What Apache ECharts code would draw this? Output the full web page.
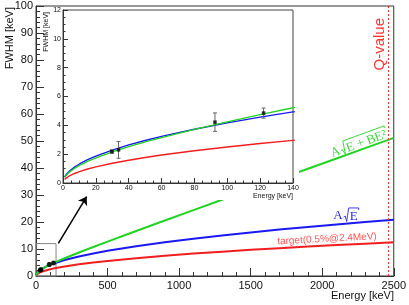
<!DOCTYPE html>
<html><head><meta charset="utf-8">
<script src="https://cdn.jsdelivr.net/npm/echarts@6/dist/echarts.min.js"></script>
<style>html,body{margin:0;padding:0;background:#fff;}#c{width:409px;height:305px;}</style>
</head><body><div id="c"></div>
<script>
const energyKeV   = [1,2,4,7,10,15,20,30,40,50,60,80,100,120,140,200,300,400,500,700,900,1100,1300,1500,1700,1900,2100,2300,2500];
const targetFWHM  = [0.25,0.35,0.50,0.66,0.79,0.97,1.12,1.37,1.58,1.77,1.94,2.24,2.50,2.74,2.96,3.54,4.33,5.00,5.59,6.61,7.50,8.29,9.01,9.68,10.31,10.90,11.46,11.99,12.50];
const sqrtFitFWHM = [0.42,0.59,0.83,1.10,1.32,1.62,1.86,2.28,2.64,2.95,3.23,3.73,4.17,4.57,4.93,5.90,7.22,8.34,9.32,11.03,12.51,13.83,15.04,16.15,17.19,18.18,19.11,20.00,20.85];
const quadFitFWHM = [0.38,0.54,0.76,1.01,1.22,1.50,1.74,2.16,2.52,2.85,3.15,3.72,4.24,4.74,5.22,6.58,8.70,10.74,12.74,16.66,20.54,24.40,28.24,32.07,35.89,39.71,43.52,47.34,51.15];
const measE    = [29.8, 33.8, 92.5, 122.1];
const measFWHM = [2.18, 2.30, 4.22, 4.85];
const measErr  = [0.12, 0.58, 0.64, 0.35];
const qValueKeV = 2458;
const zoomBox = {e: 140, f: 12};

const SANS = 'Liberation Sans, Arial, sans-serif';
const SERIF = 'Liberation Serif, Times New Roman, serif';
const RED = '#f01e1e', BLUE = '#1a1af0', GREEN = '#22d422';

const zip = (xs, ys) => xs.map((x, i) => [x, ys[i]]);
const meas = measE.map((e, i) => [e, measFWHM[i], measErr[i]]);

function errBars(cap, color) {
  return function (params, api) {
    const x = api.value(0), y = api.value(1), e = api.value(2);
    const t = api.coord([x, y + e]), b = api.coord([x, y - e]);
    const st = {stroke: color, lineWidth: 1};
    const ch = [{type: 'line', shape: {x1: t[0], y1: t[1], x2: b[0], y2: b[1]}, style: st}];
    if (cap > 0) {
      ch.push({type: 'line', shape: {x1: t[0]-cap, y1: t[1], x2: t[0]+cap, y2: t[1]}, style: st});
      ch.push({type: 'line', shape: {x1: b[0]-cap, y1: b[1], x2: b[0]+cap, y2: b[1]}, style: st});
    }
    return {type: 'group', children: ch};
  };
}

function axisX(idx, max, interval, split, tickLen, fs, margin, z) {
  return {type: 'value', gridIndex: idx, min: 0, max: max, interval: interval, z: z,
    axisLine: {show: true, onZero: false, lineStyle: {color: '#333', width: 1}},
    axisTick: {show: true, inside: true, length: tickLen, lineStyle: {color: '#333'}},
    minorTick: {show: true, splitNumber: split, length: tickLen/2, lineStyle: {color: '#333'}},
    splitLine: {show: false}, minorSplitLine: {show: false},
    axisLabel: {fontSize: fs, color: '#111', margin: margin, fontFamily: SANS, formatter: v => String(v)}};
}

function radicalLabel(x, y, rot, color, fs, pre, inner, innerW) {
  const aW = fs * 0.72;
  const top = -fs * 0.62, bot = fs * 0.42;
  const rx0 = -((aW + 6 + innerW) / 2) + aW + 1;
  const x0 = -((aW + 6 + innerW) / 2);
  return {type: 'group', x: x, y: y, rotation: rot, z: 10, children: [
    {type: 'text', x: x0, y: 0, style: {text: pre, fill: color, font: fs + 'px ' + SERIF, align: 'left', verticalAlign: 'middle'}},
    {type: 'polyline', shape: {points: [[rx0, 1], [rx0+1.5, 0], [rx0+3, bot], [rx0+5, top], [rx0+6+innerW+1, top], [rx0+6+innerW+1, top+2]]},
      style: {stroke: color, lineWidth: 0.9, fill: null}},
    {type: 'text', x: rx0 + 6, y: 0.5, style: {text: inner, fill: color, font: fs + 'px ' + SERIF, align: 'left', verticalAlign: 'middle'}}
  ]};
}

const chart = echarts.init(document.getElementById('c'), null, {renderer: 'canvas'});
chart.setOption({
  animation: false,
  backgroundColor: '#fff',
  grid: [
    {left: 36, top: 6, right: 15, bottom: 29, show: true, borderColor: '#333', borderWidth: 1, backgroundColor: 'transparent', z: 0},
    {left: 63, top: 10, right: 116, bottom: 122, show: true, borderColor: '#444', borderWidth: 1, backgroundColor: '#fff', z: 4}
  ],
  xAxis: [
    axisX(0, 2500, 500, 5, 8, 11, 4, 0),
    axisX(1, 140, 20, 4, 5, 7, 2, 5)
  ],
  yAxis: [
    axisX(0, 100, 10, 5, 8, 11, 3, 0),
    axisX(1, 12, 2, 4, 5, 7, 2, 5)
  ],
  series: [
    {type: 'line', xAxisIndex: 0, yAxisIndex: 0, data: zip(energyKeV, targetFWHM), showSymbol: false,
      lineStyle: {color: RED, width: 2}, z: 2,
      markLine: {silent: true, symbol: ['none', 'arrow'], symbolSize: 8, label: {show: false},
        lineStyle: {color: '#000', width: 1.5, type: 'solid'},
        data: [[{coord: [156, 12.1]}, {coord: [354, 29.4]}]]}},
    {type: 'line', xAxisIndex: 0, yAxisIndex: 0, data: zip(energyKeV, sqrtFitFWHM), showSymbol: false,
      lineStyle: {color: BLUE, width: 2}, z: 2,
      markLine: {silent: true, symbol: 'none', label: {show: false},
        lineStyle: {color: '#f33', width: 1, type: [2, 2]}, data: [{xAxis: qValueKeV}]}},
    {type: 'line', xAxisIndex: 0, yAxisIndex: 0, data: zip(energyKeV, quadFitFWHM), showSymbol: false,
      lineStyle: {color: GREEN, width: 2}, z: 2,
      markArea: {silent: true, itemStyle: {color: 'rgba(0,0,0,0)', borderColor: '#888', borderWidth: 1},
        data: [[{coord: [0, 0]}, {coord: [zoomBox.e, zoomBox.f]}]]}},
    {type: 'custom', xAxisIndex: 0, yAxisIndex: 0, data: meas, renderItem: errBars(1.5, '#222'), z: 2},
    {type: 'scatter', xAxisIndex: 0, yAxisIndex: 0, data: meas.map(d => [d[0], d[1]]), symbol: 'circle', symbolSize: 5,
      itemStyle: {color: '#000'}, z: 2},

    {type: 'line', xAxisIndex: 1, yAxisIndex: 1, data: zip(energyKeV, targetFWHM), showSymbol: false,
      lineStyle: {color: RED, width: 1.4}, z: 6},
    {type: 'line', xAxisIndex: 1, yAxisIndex: 1, data: zip(energyKeV, sqrtFitFWHM), showSymbol: false,
      lineStyle: {color: BLUE, width: 1.4}, z: 6},
    {type: 'line', xAxisIndex: 1, yAxisIndex: 1, data: zip(energyKeV, quadFitFWHM), showSymbol: false,
      lineStyle: {color: GREEN, width: 1.4}, z: 6},
    {type: 'custom', xAxisIndex: 1, yAxisIndex: 1, data: meas, renderItem: errBars(2, '#666'), z: 7},
    {type: 'scatter', xAxisIndex: 1, yAxisIndex: 1, data: meas.map(d => [d[0], d[1]]), symbol: 'rect', symbolSize: 3.5,
      itemStyle: {color: '#000'}, z: 7}
  ],
  graphic: [
    {type: 'rect', z: 3, shape: {x: 46, y: 8, width: 253, height: 192}, style: {fill: '#fff'}},
    {type: 'text', z: 10, x: 10, y: 7, rotation: Math.PI/2, style: {text: 'FWHM [keV]', font: '11px ' + SANS, fill: '#111', align: 'right', verticalAlign: 'middle'}},
    {type: 'text', z: 10, x: 394, y: 296, style: {text: 'Energy [keV]', font: '11px ' + SANS, fill: '#111', align: 'right', verticalAlign: 'middle'}},
    {type: 'text', z: 10, x: 46, y: 12, rotation: Math.PI/2, style: {text: 'FWHM [keV]', font: '7px ' + SANS, fill: '#111', align: 'right', verticalAlign: 'middle'}},
    {type: 'text', z: 10, x: 293, y: 196, style: {text: 'Energy [keV]', font: '7px ' + SANS, fill: '#111', align: 'right', verticalAlign: 'middle'}},
    {type: 'text', z: 10, x: 380, y: 18, rotation: Math.PI/2, style: {text: 'Q-value', font: '15px ' + SANS, fill: '#f33', align: 'right', verticalAlign: 'middle'}},
    {type: 'text', z: 10, x: 327, y: 239, rotation: 3*Math.PI/180, style: {text: 'target(0.5%@2.4MeV)', font: '10px ' + SANS, fill: '#f55', align: 'center', verticalAlign: 'middle'}},
    radicalLabel(345, 216, 0, '#2a2af0', 13, 'A', 'E', 8),
    radicalLabel(358, 144, 20*Math.PI/180, '#3cd83c', 13, 'A', 'E + BE\u00b2', 42)
  ]
});
</script>
</body></html>
